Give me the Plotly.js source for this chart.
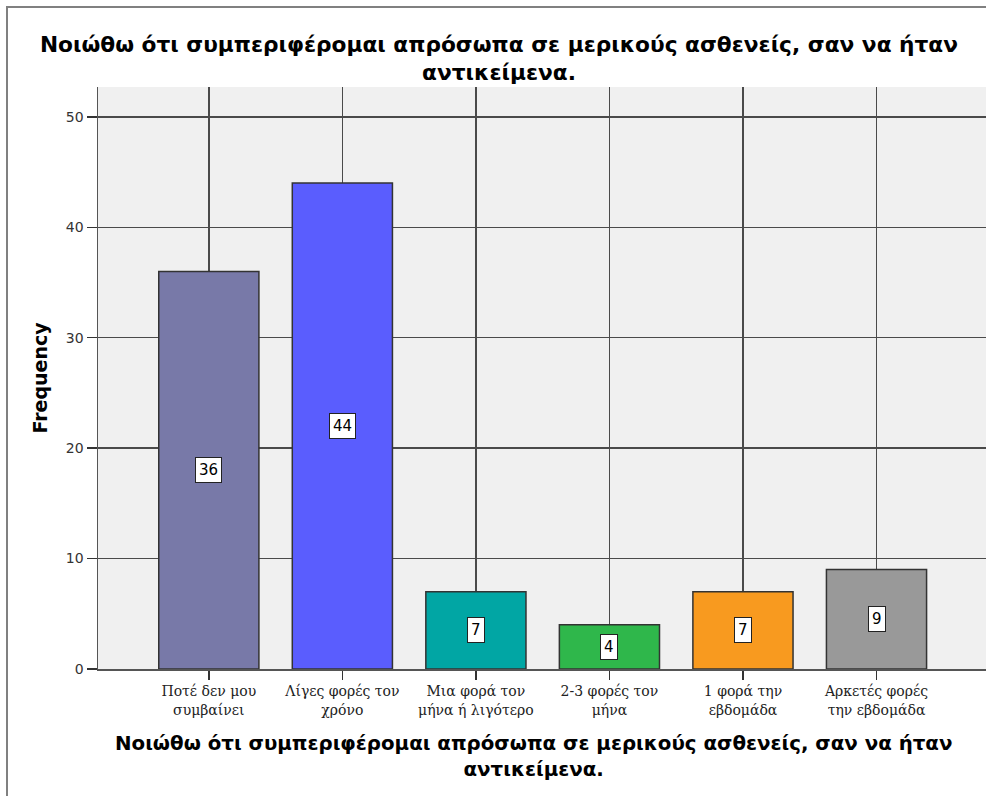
<!DOCTYPE html>
<html>
<head>
<meta charset="utf-8">
<script src="https://cdn.plot.ly/plotly-3.0.1.min.js"></script>
<style>
  html, body { margin: 0; padding: 0; background: #fff; }
  #wrap { position: relative; width: 986px; height: 796px; overflow: hidden; }
  #frame { position: absolute; left: 6px; top: 6px; width: 1000px; height: 1000px;
           border-left: 2px solid #808080; border-top: 2px solid #808080; pointer-events: none; }
  #chart { position: absolute; left: 0; top: 0; width: 986px; height: 796px; }
</style>
</head>
<body>
<div id="wrap">
  <div id="chart"></div>
  <div id="frame"></div>
</div>
<script>
const categories = [
  "Ποτέ δεν μου<br>συμβαίνει",
  "Λίγες φορές τον<br>χρόνο",
  "Μια φορά τον<br>μήνα ή λιγότερο",
  "2-3 φορές τον<br>μήνα",
  "1 φορά την<br>εβδομάδα",
  "Αρκετές φορές<br>την εβδομάδα"
];
const frequencies = [36, 44, 7, 4, 7, 9];
const barColors = ["#7879A8", "#5A5DFE", "#01A6A4", "#2FB74B", "#F89A1F", "#999999"];
const chartTitle = "Νοιώθω ότι συμπεριφέρομαι απρόσωπα σε μερικούς ασθενείς, σαν να ήταν<br>αντικείμενα.";
const xTitle = "Νοιώθω ότι συμπεριφέρομαι απρόσωπα σε μερικούς ασθενείς, σαν να ήταν<br>αντικείμενα.";
const yTitle = "Frequency";
const yTicks = [0, 10, 20, 30, 40, 50];

const trace = {
  type: "bar",
  x: categories,
  y: frequencies,
  marker: { color: barColors, line: { color: "#333333", width: 1.5 } },
  width: 0.75,
  hoverinfo: "x+y"
};

const annotations = categories.map((c, i) => ({
  x: c, y: frequencies[i] / 2, xref: "x", yref: "y",
  text: String(frequencies[i]), showarrow: false,
  font: { family: "DejaVu Sans", size: 15, color: "#000" },
  bgcolor: "#ffffff", bordercolor: "#222222", borderwidth: 1, borderpad: 3
}));

annotations.push({
  text: xTitle, xref: "paper", yref: "paper", x: (533 - 98) / 888, y: -0.104,
  xanchor: "center", yanchor: "top", showarrow: false,
  font: { family: "DejaVu Sans", size: 19.8, color: "#000", weight: "bold" }
});

const layout = {
  width: 986, height: 796,
  margin: { l: 98, r: 0, t: 87, b: 127, pad: 0 },
  paper_bgcolor: "#ffffff",
  plot_bgcolor: "#f0f0f0",
  showlegend: false,
  title: {
    text: "<b>" + chartTitle + "</b>",
    x: 499 / 986, xref: "container", xanchor: "center",
    y: 1 - 52 / 796, yref: "container", yanchor: "top",
    font: { family: "DejaVu Sans", size: 21.7, color: "#000" }
  },
  xaxis: {
    type: "category",
    range: [-0.83, 5.82],
    showgrid: true, gridcolor: "#4a4a4a", gridwidth: 1.5,
    showline: true, linecolor: "#555555", linewidth: 1.5,
    ticks: "outside", ticklen: 9, tickcolor: "#333333", tickwidth: 1.5,
    tickfont: { family: "DejaVu Serif", size: 14, color: "#222" },
    zeroline: false, fixedrange: true
  },
  yaxis: {
    range: [0, 52.7],
    tickvals: yTicks,
    showgrid: true, gridcolor: "#4a4a4a", gridwidth: 1.5,
    showline: true, linecolor: "#555555", linewidth: 1.5,
    ticks: "outside", ticklen: 10, tickcolor: "#333333", tickwidth: 1.5,
    tickfont: { family: "DejaVu Sans", size: 14, color: "#333" },
    zeroline: false, fixedrange: true,
    title: { text: "<b>" + yTitle + "</b>", standoff: 13,
             font: { family: "DejaVu Sans", size: 19, color: "#000" } }
  },
  annotations: annotations,
  bargap: 0.25
};

Plotly.newPlot("chart", [trace], layout, { displayModeBar: false, staticPlot: true });
</script>
</body>
</html>
